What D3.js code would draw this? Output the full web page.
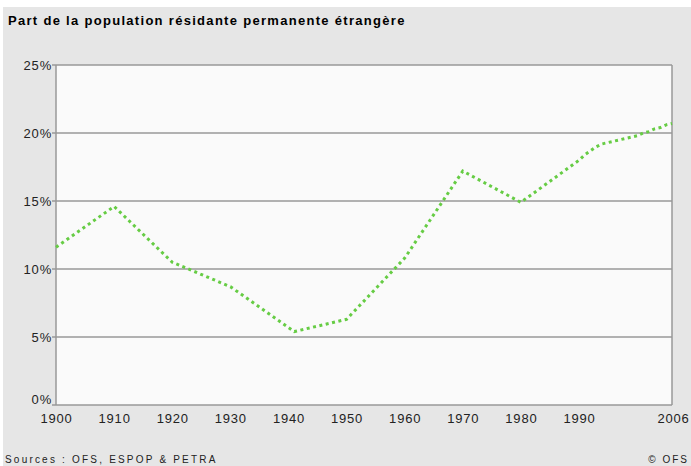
<!DOCTYPE html>
<html>
<head>
<meta charset="utf-8">
<script src="https://cdn.jsdelivr.net/npm/d3@7"></script>
<style>
  body { margin: 0; background: #fff; }
  svg { display: block; }
</style>
</head>
<body>
<div class="chart"></div>
<script>
// years and share (%) of foreign permanent resident population
const years = [1900, 1910, 1920, 1930, 1941, 1950, 1960, 1970, 1980, 1990,
  1991, 1992, 1993, 1994, 1995, 1996, 1997, 1998, 1999, 2000,
  2001, 2002, 2003, 2004, 2005, 2006];
const shares = [11.6, 14.6, 10.5, 8.7, 5.4, 6.3, 10.8, 17.2, 14.9, 18.0,
  18.4, 18.7, 19.0, 19.2, 19.3, 19.4, 19.5, 19.6, 19.7, 19.8,
  20.0, 20.1, 20.3, 20.4, 20.6, 20.7];
const xTicks = [1900, 1910, 1920, 1930, 1940, 1950, 1960, 1970, 1980, 1990, 2006];
const yTicks = [0, 5, 10, 15, 20, 25];

const W = 691, H = 466;
const margin = { top: 65, right: 19, bottom: 61, left: 56 };
const width = W - margin.left - margin.right;
const height = H - margin.top - margin.bottom;
const font = "Liberation Sans, Arial, sans-serif";

const svg = d3.select(".chart").append("svg")
  .attr("width", W)
  .attr("height", H);

// grey page background with a thin white strip top and left
svg.append("rect")
  .attr("x", 3).attr("y", 7)
  .attr("width", W - 3).attr("height", H - 7)
  .attr("fill", "#e6e6e6");

svg.append("text")
  .attr("x", 8)
  .attr("y", 25)
  .attr("font-family", font)
  .attr("font-size", "13px")
  .attr("font-weight", "bold")
  .attr("letter-spacing", "1.3px")
  .attr("fill", "#000")
  .text("Part de la population résidante permanente étrangère");

const g = svg.append("g")
  .attr("transform", `translate(${margin.left},${margin.top})`);

const x = d3.scaleLinear().domain([1900, 2006]).range([0, width]);
const y = d3.scaleLinear().domain([0, 25]).range([height, 0]);

g.append("rect")
  .attr("width", width)
  .attr("height", height)
  .attr("fill", "#fafafa");

// gridlines
g.append("g")
  .selectAll("line")
  .data(yTicks)
  .join("line")
  .attr("x1", -4).attr("x2", width)
  .attr("y1", d => y(d)).attr("y2", d => y(d))
  .attr("stroke", "#999")
  .attr("stroke-width", 1.5);

// left and right borders
g.append("line")
  .attr("x1", 0).attr("x2", 0).attr("y1", 0).attr("y2", height)
  .attr("stroke", "#999").attr("stroke-width", 1.5);
g.append("line")
  .attr("x1", width).attr("x2", width).attr("y1", 0).attr("y2", height)
  .attr("stroke", "#999").attr("stroke-width", 1.5);

// y labels
const yAxis = d3.axisLeft(y).tickValues(yTicks).tickFormat(d => d + "%").tickSize(0).tickPadding(4);
g.append("g")
  .call(yAxis)
  .call(s => s.select(".domain").remove())
  .selectAll("text")
  .attr("font-family", font)
  .attr("font-size", "13px")
  .attr("letter-spacing", "0.8px")
  .attr("fill", "#222")
  .attr("dy", d => d === 0 ? "-0.1em" : "0.32em");

// x labels
const xAxis = d3.axisBottom(x).tickValues(xTicks).tickFormat(d3.format("d")).tickSize(0).tickPadding(9);
g.append("g")
  .attr("transform", `translate(0,${height})`)
  .call(xAxis)
  .call(s => s.select(".domain").remove())
  .selectAll("text")
  .attr("font-family", font)
  .attr("font-size", "13px")
  .attr("letter-spacing", "0.8px")
  .attr("fill", "#222")
  .attr("dx", d => d === 2006 ? "1px" : 0);

// dotted data line
const line = d3.line()
  .x((d, i) => x(years[i]))
  .y(d => y(d));

g.append("path")
  .datum(shares)
  .attr("d", line)
  .attr("fill", "none")
  .attr("stroke", "#66cc44")
  .attr("stroke-width", 3)
  .attr("stroke-dasharray", "3,3.5");

// footer
svg.append("text")
  .attr("x", 5)
  .attr("y", 463)
  .attr("font-family", "Liberation Sans Narrow, Arial Narrow, sans-serif")
  .attr("font-size", "10px")
  .attr("letter-spacing", "2.2px")
  .attr("fill", "#222")
  .text("Sources : OFS, ESPOP & PETRA");

svg.append("text")
  .attr("x", 689)
  .attr("y", 463)
  .attr("text-anchor", "end")
  .attr("font-family", "Liberation Sans Narrow, Arial Narrow, sans-serif")
  .attr("font-size", "10px")
  .attr("letter-spacing", "2px")
  .attr("fill", "#222")
  .text("© OFS");
</script>
</body>
</html>
